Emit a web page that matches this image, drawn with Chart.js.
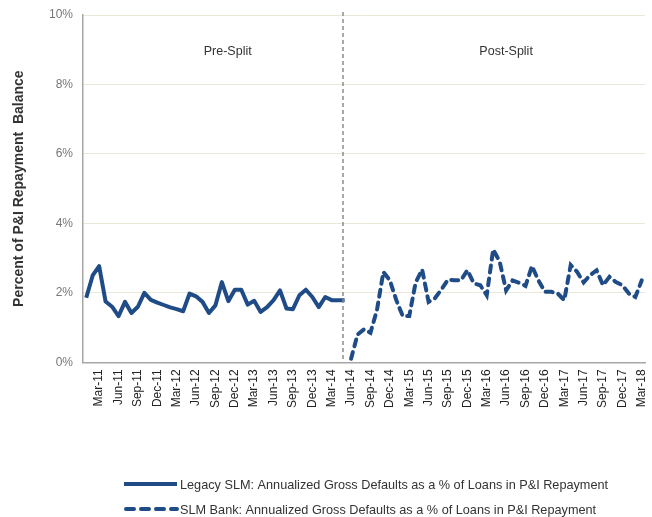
<!DOCTYPE html>
<html>
<head>
<meta charset="utf-8">
<script src="https://cdn.jsdelivr.net/npm/chart.js@4/dist/chart.umd.min.js"></script>
<style>
  html, body { margin: 0; padding: 0; background: #fff; }
  #wrap { width: 652px; height: 517px; }
</style>
</head>
<body>
<div id="wrap"><canvas id="defaultsChart"></canvas></div>
<script>
// monthly categories Jan-11 .. Mar-18
const months = ["Jan", "Feb", "Mar", "Apr", "May", "Jun", "Jul", "Aug", "Sep", "Oct", "Nov", "Dec"];
const labels = [];
for (let y = 11; y <= 18; y++) {
    for (let m = 0; m < 12; m++) {
        if (y === 18 && m > 2) break;
        labels.push(months[m] + "-" + y);
    }
}

// Legacy SLM, Jan-11 .. May-14
const legacySLM = [
    1.86, 2.5, 2.77, 1.75, 1.6, 1.33, 1.74, 1.42, 1.6, 2.0, 1.8, 1.72,
    1.65, 1.58, 1.53, 1.47, 1.98, 1.9, 1.74, 1.42, 1.64, 2.31, 1.76, 2.09,
    2.09, 1.66, 1.77, 1.45, 1.59, 1.79, 2.07, 1.55, 1.53, 1.93, 2.09, 1.88,
    1.59, 1.88, 1.79, 1.79, 1.79
];

// SLM Bank, Jun-14 .. Mar-18
const slmBank = [
    0.1, 0.8, 0.95, 0.85, 1.5, 2.6, 2.36,
    1.79, 1.33, 1.33, 2.3, 2.67, 1.74, 1.85, 2.1, 2.38, 2.36, 2.36, 2.65,
    2.27, 2.22, 1.93, 3.25, 2.9, 2.07, 2.36, 2.29, 2.2, 2.77, 2.36, 2.03,
    2.03, 1.98, 1.79, 2.8, 2.6, 2.3, 2.51, 2.65, 2.22, 2.46, 2.31, 2.22,
    1.98, 1.88, 2.36
];

const yTicks = [0, 2, 4, 6, 8, 10];
const quarterMonths = ["Mar", "Jun", "Sep", "Dec"];
const splitIndex = 39.75; // divider just before the end of the legacy series

const legacyData = labels.map((l, i) => i < legacySLM.length ? legacySLM[i] : null);
const bankData = labels.map((l, i) => i >= legacySLM.length ? slmBank[i - legacySLM.length] : null);

const navy = '#1f4c87';
const font = "'Liberation Sans', Arial, sans-serif";

// dashed divider, Pre/Post-Split notes and the legend at the bottom
const extras = {
    id: 'extras',
    afterDatasetsDraw(chart) {
        const ctx = chart.ctx;
        const x = chart.scales.x;
        const y = chart.scales.y;
        const sx = x.getPixelForValue(splitIndex);
        ctx.save();
        ctx.strokeStyle = '#8c8c8c';
        ctx.lineWidth = 1.5;
        ctx.setLineDash([4, 3]);
        ctx.beginPath();
        ctx.moveTo(sx, y.top - 3);
        ctx.lineTo(sx, y.bottom);
        ctx.stroke();
        ctx.setLineDash([]);

        ctx.fillStyle = '#333';
        ctx.font = '12.5px ' + font;
        ctx.textAlign = 'center';
        ctx.textBaseline = 'middle';
        ctx.fillText('Pre-Split', x.getPixelForValue(21.9), y.getPixelForValue(8.95));
        ctx.fillText('Post-Split', x.getPixelForValue(65), y.getPixelForValue(8.95));

        // legend
        const lx = 124, ly = 484, gap = 25;
        chart.data.datasets.forEach((ds, i) => {
            const yy = ly + i * gap;
            ctx.strokeStyle = ds.borderColor;
            ctx.lineWidth = 4;
            ctx.lineCap = ds.borderDash ? 'round' : 'butt';
            ctx.setLineDash(ds.borderDash ? [8, 7] : []);
            ctx.beginPath();
            ctx.moveTo(lx + (ds.borderDash ? 2 : 0), yy);
            ctx.lineTo(lx + 53, yy);
            ctx.stroke();
            ctx.setLineDash([]);
            ctx.fillStyle = '#333';
            ctx.font = '12.7px ' + font;
            ctx.textAlign = 'left';
            ctx.fillText(ds.label, lx + 56, yy + 1);
        });
        ctx.restore();
    }
};

const ctxDefaults = document.getElementById('defaultsChart').getContext('2d');
const defaultsChart = new Chart(ctxDefaults, {
    type: 'line',
    data: {
        labels: labels,
        datasets: [
            {
                label: 'Legacy SLM: Annualized Gross Defaults as a % of Loans in P&I Repayment',
                data: legacyData,
                borderColor: navy,
                borderWidth: 4,
                pointRadius: 0,
                tension: 0,
                borderJoinStyle: 'round',
                spanGaps: false,
            },
            {
                label: 'SLM Bank: Annualized Gross Defaults as a % of Loans in P&I Repayment',
                data: bankData,
                borderColor: navy,
                borderWidth: 4,
                borderDash: [7, 6],
                borderCapStyle: 'round',
                pointRadius: 0,
                tension: 0,
                spanGaps: false,
            },
        ],
    },
    options: {
        responsive: true,
        maintainAspectRatio: false,
        animation: false,
        layout: {
            padding: { top: 15, right: 7, bottom: 102, left: 0 }
        },
        scales: {
            x: {
                offset: true,
                afterFit: (scale) => { scale.paddingRight = 0; scale.paddingLeft = 0; },
                grid: { display: false, drawTicks: false },
                border: { color: '#a6a6a6', width: 1.5 },
                ticks: {
                    autoSkip: false,
                    maxRotation: 90,
                    minRotation: 90,
                    padding: 7,
                    color: '#222',
                    font: { family: font, size: 12 },
                    callback: function (value) {
                        const l = labels[value];
                        return quarterMonths.includes(l.split('-')[0]) ? l : '';
                    },
                },
            },
            y: {
                min: 0,
                max: 10,
                afterBuildTicks: (scale) => { scale.ticks = yTicks.map(v => ({ value: v })); },
                afterFit: (scale) => { scale.width = 83; scale.paddingTop = 0; scale.paddingBottom = 0; },
                grid: {
                    color: (c) => c.tick.value === 0 ? 'rgba(0,0,0,0)' : '#ebe8d8',
                    drawTicks: false,
                },
                border: { color: '#a6a6a6', width: 1.5 },
                ticks: {
                    padding: 10,
                    color: '#777',
                    font: { family: font, size: 12 },
                    callback: (v) => v + '%',
                },
                title: {
                    display: true,
                    text: 'Percent of P&I Repayment  Balance',
                    color: '#333',
                    font: { family: font, size: 14, weight: 'bold' },
                    padding: { top: 11, bottom: 0 },
                },
            },
        },
        plugins: {
            legend: { display: false },
            tooltip: { enabled: false },
        },
    },
    plugins: [extras],
});
</script>
</body>
</html>
